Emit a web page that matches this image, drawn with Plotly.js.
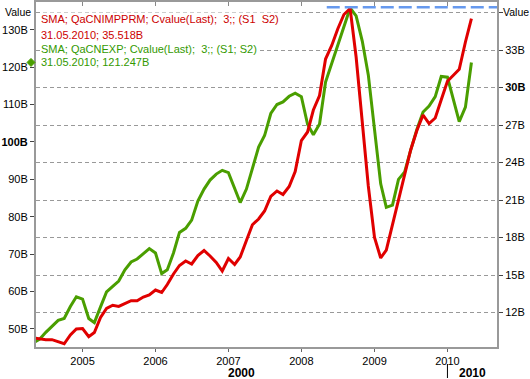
<!DOCTYPE html>
<html>
<head>
<meta charset="utf-8">
<script src="https://cdn.plot.ly/plotly-3.0.1.min.js"></script>
<style>html,body{margin:0;padding:0;background:#fff;}#chart{width:530px;height:379px;}</style>
</head>
<body>
<div id="chart"></div>
<script>
// Monthly dates May 2004 .. May 2010
var dates = [];
(function(){ for (var y = 2004, m = 5; !(y === 2010 && m > 5); ) { dates.push(y + '-' + (m < 10 ? '0' + m : m) + '-01'); m++; if (m > 12) { m = 1; y++; } } })();

// QaCNEXP (left axis, billions)
var exportVals = [46.3, 47.3, 49.1, 50.7, 52.3, 52.8, 56.0, 58.6, 58.0, 52.8, 51.7, 55.9,
  59.9, 61.4, 62.8, 65.8, 67.9, 68.7, 70.2, 71.5, 70.3, 64.8, 65.8, 70.3,
  75.8, 76.9, 79.1, 84.2, 87.4, 89.8, 91.4, 92.4, 91.8, 87.3, 83.8, 87.4,
  92.8, 98.6, 101.7, 107.6, 110.0, 110.7, 112.2, 113.0, 112.1, 104.7, 101.9, 104.8,
  116.0, 121.0, 126.0, 130.7, 135.8, 133.7, 126.9, 117.9, 103.2, 88.8, 82.5, 83.1,
  90.0, 92.0, 97.8, 103.3, 108.0, 109.6, 112.1, 117.5, 117.3, 111.2, 105.4, 109.3, 121.247];

// QaCNIMPPRM (right axis, billions)
var importVals = [9.96, 9.88, 9.82, 9.83, 9.64, 9.50, 10.20, 10.68, 10.72, 10.06, 10.40, 11.60,
  12.32, 12.58, 12.49, 12.70, 12.94, 12.94, 13.24, 13.40, 13.80, 13.60, 14.24, 15.08,
  15.76, 16.12, 15.88, 16.56, 16.96, 16.52, 16.00, 15.32, 16.32, 15.84, 16.44, 17.76,
  19.02, 19.48, 20.12, 21.28, 21.72, 21.44, 22.08, 23.28, 25.76, 26.44, 28.20, 29.36,
  32.28, 33.36, 34.68, 35.84, 36.32, 32.44, 27.32, 22.12, 18.00, 16.36, 17.00, 19.04,
  20.92, 23.04, 25.00, 26.56, 27.80, 27.12, 27.56, 29.02, 30.50, 31.00, 31.46, 33.64, 35.518];

var maxLineDates = ['2008-05-07', '2010-09-06'];
var maxLineValue = [136.0, 136.0];

var xRange = ['2004-05-13', '2010-09-06'];
var yLeftRange = [45.18, 137.40];
var yRightRange = [9.24, 36.84];

var yearTicks = ['2005-01-01', '2006-01-01', '2007-01-01', '2008-01-01', '2009-01-01', '2010-01-01'];
var yearLabels = ['2005', '2006', '2007', '2008', '2009', '2010'];
var leftTicks = [50, 60, 70, 80, 90, 100, 110, 120, 130];
var leftLabels = ['50B', '60B', '70B', '80B', '90B', '<b>100B</b>', '110B', '120B', '130B'];
var rightTicks = [12, 15, 18, 21, 24, 27, 30, 33, 36];
var rightLabels = ['12B', '15B', '18B', '21B', '24B', '27B', '<b>30B</b>', '33B', ''];

var lastDate = '31.05.2010';
var redLegend = 'SMA; QaCNIMPPRM; Cvalue(Last);  3;; (S1  S2)';
var greenLegend = 'SMA; QaCNEXP; Cvalue(Last);  3;; (S1; S2)';

var RED = '#e00000', GREEN = '#4a9e00', REDTXT = '#cc0000', GREENTXT = '#339900';
var FONT = 'Liberation Sans, Arial, sans-serif';

function tf(d) { return new Date(d + 'T00:00:00Z').getTime(); }
function xFrac(d) { return (tf(d) - tf(xRange[0])) / (tf(xRange[1]) - tf(xRange[0])); }
function yFrac(v, r) { return (v - r[0]) / (r[1] - r[0]); }

var traces = [
  { x: dates, y: importVals, type: 'scatter', mode: 'lines', yaxis: 'y2',
    line: { color: RED, width: 3 }, hoverinfo: 'skip' },
  { x: dates, y: exportVals, type: 'scatter', mode: 'lines', yaxis: 'y',
    line: { color: GREEN, width: 3 }, hoverinfo: 'skip' },
  { x: maxLineDates, y: maxLineValue, type: 'scatter', mode: 'lines', xaxis: 'x2', yaxis: 'y',
    line: { color: '#6699ee', width: 2.5, dash: '13px,5px' }, hoverinfo: 'skip' }
];

var f2010 = xFrac('2010-01-01');
var lastGreen = exportVals[exportVals.length - 1];
var lastRed = importVals[importVals.length - 1];

var plotH = 345, plotW = 461;
function py(pix) { return (347 - pix) / plotH; }
function px(pix) { return (pix - 36) / plotW; }

var ann = function (text, x, y, color, xanchor, bg, size) {
  return { text: text, xref: 'paper', yref: 'paper', x: x, y: y, xanchor: xanchor || 'left',
    yanchor: 'middle', showarrow: false, font: { family: FONT, size: size || 11, color: color },
    bgcolor: bg || 'rgba(0,0,0,0)', borderpad: 0 };
};

var layout = {
  width: 530, height: 379,
  margin: { l: 36, r: 33, t: 2, b: 32 },
  paper_bgcolor: '#ffffff', plot_bgcolor: '#ffffff',
  showlegend: false,
  xaxis: { type: 'date', range: xRange, tickvals: yearTicks, ticktext: yearLabels,
    ticks: 'outside', ticklen: 3, tickcolor: '#666', showgrid: false, zeroline: false,
    showline: true, linecolor: '#999', linewidth: 2, mirror: true,
    tickfont: { family: FONT, size: 11, color: '#000' } },
  xaxis2: { type: 'date', range: xRange, overlaying: 'x', side: 'top', anchor: 'y',
    tickvals: yearTicks, ticks: 'inside', ticklen: 4, tickcolor: '#888',
    showticklabels: false, showgrid: false, zeroline: false, showline: false },
  yaxis: { range: yLeftRange, tickvals: leftTicks, ticktext: leftLabels,
    ticks: 'outside', ticklen: 4, tickcolor: '#444', showgrid: false, zeroline: false,
    showline: true, linecolor: '#999', linewidth: 2,
    tickfont: { family: FONT, size: 11, color: '#000' } },
  yaxis2: { range: yRightRange, overlaying: 'y', side: 'right', tickvals: rightTicks, ticktext: rightLabels,
    ticks: 'outside', ticklen: 4, tickcolor: '#444', showgrid: true, gridcolor: '#999',
    griddash: '4px,3px', gridwidth: 1, zeroline: false,
    showline: true, linecolor: '#999', linewidth: 2,
    tickfont: { family: FONT, size: 11, color: '#000' } },
  annotations: [
    ann('Value', px(32), py(12), '#000', 'right', null, 10.5),
    ann('Value', px(502), py(12), '#000', 'left', null, 10.5),
    ann(redLegend, px(40), py(19), REDTXT, 'left', '#ffffff'),
    ann(lastDate + '; ' + lastRed.toFixed(3) + 'B', px(40), py(35), REDTXT, 'left', '#ffffff'),
    ann(greenLegend, px(40), py(49), GREENTXT, 'left', '#ffffff'),
    ann(lastDate + '; ' + lastGreen.toFixed(3) + 'B', px(40), py(62), GREENTXT, 'left', '#ffffff'),
    { text: '<b>2000</b>', xref: 'paper', yref: 'paper', x: f2010 / 2, y: py(372.5), xanchor: 'center', yanchor: 'middle',
      showarrow: false, font: { family: FONT, size: 12, color: '#000' } },
    { text: '<b>2010</b>', xref: 'paper', yref: 'paper', x: (f2010 + 1) / 2, y: py(372.5), xanchor: 'center', yanchor: 'middle',
      showarrow: false, font: { family: FONT, size: 12, color: '#000' } }
  ],
  shapes: [
    { type: 'line', xref: 'paper', yref: 'paper', x0: f2010, x1: f2010, y0: py(364), y1: py(378),
      line: { color: '#000', width: 1 } },
    { type: 'path', xref: 'paper', yref: 'paper', xsizemode: 'pixel', ysizemode: 'pixel',
      xanchor: 0, yanchor: yFrac(lastGreen, yLeftRange),
      path: 'M-9,0 L-5,4 L-1,0 L-5,-4 Z', fillcolor: GREEN, line: { color: GREEN, width: 1 } }
  ]
};

Plotly.newPlot('chart', traces, layout, { staticPlot: true, displayModeBar: false });
</script>
</body>
</html>
